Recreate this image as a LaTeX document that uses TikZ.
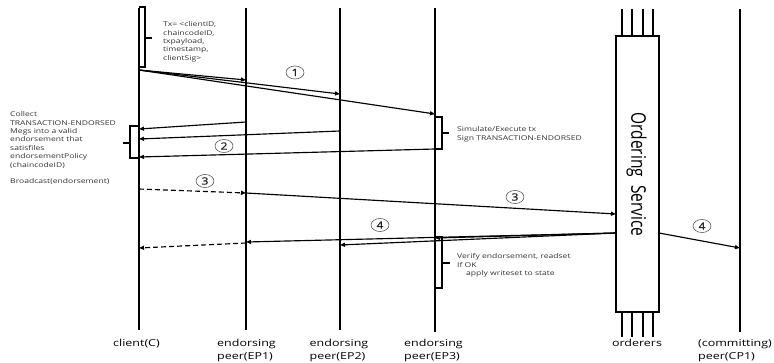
\documentclass[tikz,border=0pt]{standalone}
\usepackage{fontspec}
\setmainfont{Open Sans}[FakeStretch=1.3]
\newfontfamily\plainfont{Open Sans}
\newfontfamily\numfont{Open Sans}[FakeStretch=1.2,FakeBold=1]
\usetikzlibrary{arrows.meta,shapes.geometric}
\begin{document}
\begin{tikzpicture}[x=1pt,y=-1pt,
  life/.style={line width=1.5pt},
  msg/.style={line width=1.15pt,-{Triangle[length=5pt,width=4pt]}},
  dmsg/.style={msg,dash pattern=on 5pt off 3pt},
  brk/.style={line width=1.1pt},
  note/.style={font=\fontsize{6.6}{8.4}\selectfont,align=left,inner sep=0pt,text=black!80},
  lbl/.style={font=\fontsize{9.6}{13}\selectfont,align=left,inner sep=0pt},
  num/.style={ellipse,draw=black!65,line width=0.6pt,minimum width=18pt,minimum height=13pt,inner sep=0pt,font=\numfont\fontsize{10}{10}\selectfont,text=black!85}]
\useasboundingbox (0,0) rectangle (774,362);
\fill[white] (0,0) rectangle (774,362);

% lifelines
\coordinate (cT) at (139,8);   \coordinate (cB) at (139,330);
\coordinate (e1T) at (246,8);  \coordinate (e1B) at (246,330);
\coordinate (e2T) at (340,8);  \coordinate (e2B) at (340,330);
\coordinate (e3T) at (435,8);  \coordinate (e3B) at (435,332);
\coordinate (pT) at (740,9);   \coordinate (pB) at (740,332);
\draw[life] (cT) -- (cB);
\draw[life] (e1T) -- (e1B);
\draw[life] (e2T) -- (e2B);
\draw[life] (e3T) -- (e3B);
\draw[life] (pT) -- (pB);

% ordering service box
\node[draw,line width=1.3pt,minimum width=43pt,minimum height=276pt,inner sep=0pt] (os) at (637.5,174) {};
\node[rotate=-90,inner sep=0pt] (ostext) at (636.5,174.5) {\scalebox{1}[1.3]{\plainfont\fontsize{15.5}{16}\selectfont Ordering\ \ Service}};
\foreach \x/\n in {622/a,632/b,643/c,653/d}{
  \coordinate (ot\n) at (\x,9);  \coordinate (otb\n) at (\x,36);
  \coordinate (ob\n) at (\x,312); \coordinate (obb\n) at (\x,337);
  \draw[line width=1.3pt] (ot\n) -- (otb\n);
  \draw[line width=1.3pt] (ob\n) -- (obb\n);
}

% messages 1
\coordinate (m1s) at (139,70);
\coordinate (m1a) at (246,80);
\coordinate (m1b) at (340,94);
\coordinate (m1c) at (435,114);
\draw[msg] (m1s) -- (m1a);
\draw[msg] (m1s) -- (m1b);
\draw[msg] (m1s) -- (m1c);
\node[num] (n1) at (295,72.5) {1};

% messages 2
\coordinate (m2as) at (246,122); \coordinate (m2ae) at (139,129);
\coordinate (m2bs) at (340,131); \coordinate (m2be) at (139,139);
\coordinate (m2cs) at (435,149); \coordinate (m2ce) at (139,157);
\draw[msg] (m2as) -- (m2ae);
\draw[msg] (m2bs) -- (m2be);
\draw[msg] (m2cs) -- (m2ce);
\node[num] (n2) at (224,146) {2};

% messages 3
\coordinate (m3s) at (139,189); \coordinate (m3m) at (246,193); \coordinate (m3e) at (616,214);
\draw[dmsg] (m3s) -- (m3m);
\draw[msg] (m3m) -- (m3e);
\node[num] (n3a) at (205,181) {3};
\node[num] (n3b) at (515,197) {3};

% messages 4
\coordinate (m4s) at (616,233);
\coordinate (m4a) at (246,242);
\coordinate (m4b) at (340,245);
\coordinate (m4c) at (435,238);
\coordinate (m4ds) at (246,243); \coordinate (m4de) at (139,248);
\coordinate (m4ps) at (659,233); \coordinate (m4pe) at (740,248);
\draw[msg] (m4s) -- (m4a);
\draw[msg] (m4s) -- (m4b);
\draw[msg] (m4s) -- (m4c);
\draw[dmsg] (m4ds) -- (m4de);
\draw[msg] (m4ps) -- (m4pe);
\node[num] (n4a) at (380,225) {4};
\node[num] (n4b) at (702,226) {4};

% brackets
\draw[brk] (139,7) -- (145,7) -- (145,67) -- (139,67);
\draw[brk] (145,38) -- (152,38);
\draw[brk] (139,126) -- (130,126) -- (130,158) -- (139,158);
\draw[brk] (130,143) -- (123,143);
\draw[brk] (435,117) -- (442,117) -- (442,149) -- (435,149);
\draw[brk] (442,133) -- (449,133);
\draw[brk] (435,237) -- (442,237) -- (442,288) -- (435,288);
\draw[brk] (442,263) -- (450,263);

% notes
\node[note,anchor=north west] (tx) at (163,21.5) {Tx= <clientID,\\chaincodeID,\\txpayload,\\timestamp,\\clientSig>};
\node[note,anchor=north west] (coll) at (10,111.5) {Collect\\TRANSACTION-ENDORSED\\Megs into a valid\\endorsement that\\satisfiles\\endorsementPolicy\\(chaincodeID)\\[8.2pt]Broadcast(endorsement)};
\node[note,anchor=north west] (sim) at (457,126.5) {Simulate/Execute tx\\Sign TRANSACTION-ENDORSED};
\node[note,anchor=north west] (ver) at (457,253.5) {Verify endorsement, readset\\If OK\\\hspace*{9pt}apply writeset to state};

% bottom labels
\node[lbl,anchor=north] (lc) at (136.5,339.5) {client(C)};
\node[lbl,anchor=north west] (l1) at (217,339.5) {endorsing\\peer(EP1)};
\node[lbl,anchor=north west] (l2) at (309.5,339.5) {endorsing\\peer(EP2)};
\node[lbl,anchor=north west] (l3) at (404,339.5) {endorsing\\peer(EP3)};
\node[lbl,anchor=north] (lo) at (637,339.5) {orderers};
\node[lbl,anchor=north west] (lp) at (698,339.5) {(committing)\\peer(CP1)};
\end{tikzpicture}
\end{document}
